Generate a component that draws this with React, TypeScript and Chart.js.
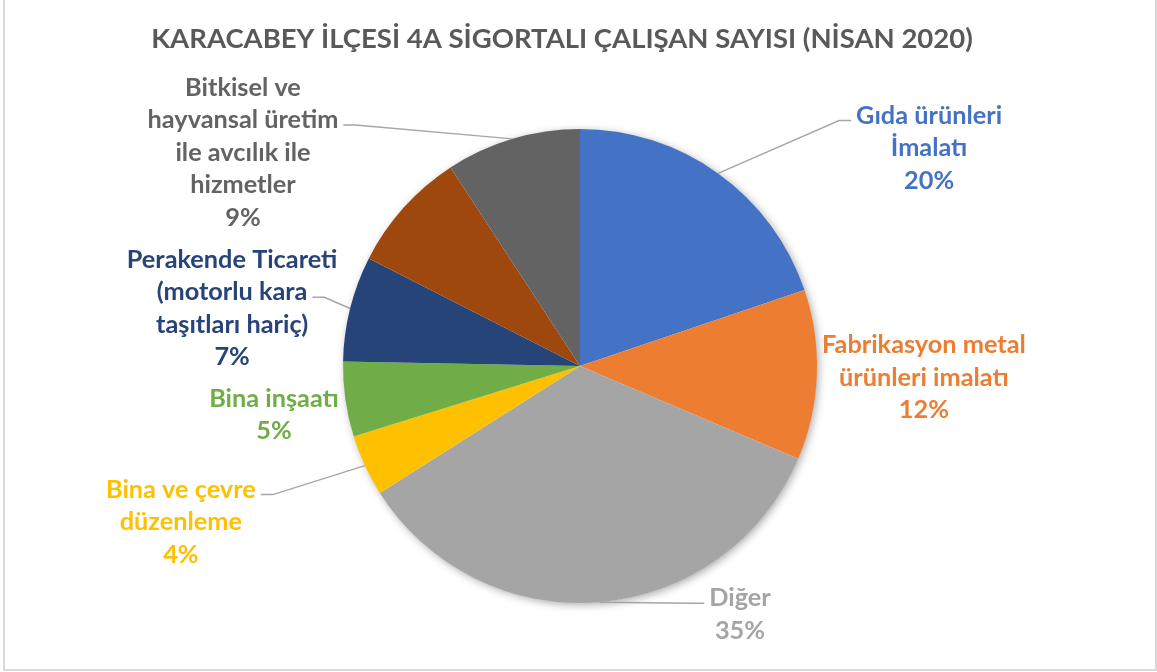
import React, { useEffect, useRef } from "react";
import { Chart, registerables } from "chart.js";

Chart.register(...registerables);

const TITLE = "KARACABEY İLÇESİ 4A SİGORTALI ÇALIŞAN SAYISI (NİSAN 2020)";

const categories = [
  "Gıda ürünleri\nİmalatı",
  "Fabrikasyon metal\nürünleri imalatı",
  "Diğer",
  "Bina ve çevre\ndüzenleme",
  "Bina inşaatı",
  "Perakende Ticareti\n(motorlu kara\ntaşıtları hariç)",
  "Etiketsiz dilim",
  "Bitkisel ve\nhayvansal üretim\nile avcılık ile\nhizmetler",
];

const shares = [19.8, 11.6, 34.6, 4.2, 5.1, 7.2, 8.3, 9.2];

const sliceColors = [
  "#4472C4",
  "#ED7D31",
  "#A5A5A5",
  "#FFC000",
  "#70AD47",
  "#264478",
  "#9E480E",
  "#636363",
];

const showLabel = [true, true, true, true, true, true, false, true];

// label placement relative to pie centre, in units of the pie radius (style only)
const labelLayout: Array<{ dx: number; dy: number; leader?: { line: number; side: "left" | "right" } } | null> = [
  { dx: 1.473, dy: -0.924, leader: { line: 0, side: "left" } },
  { dx: 1.451, dy: 0.046 },
  { dx: 0.675, dy: 1.044, leader: { line: 0, side: "left" } },
  { dx: -1.684, dy: 0.654, leader: { line: 0, side: "right" } },
  { dx: -1.291, dy: 0.203 },
  { dx: -1.468, dy: -0.247, leader: { line: 1, side: "right" } },
  null,
  { dx: -1.422, dy: -0.905, leader: { line: 1, side: "right" } },
];

const FONT_FAMILY = "Lato, 'Open Sans', sans-serif";
const LABEL_SIZE = 25.3;
const TITLE_SIZE = 27.5;
const LINE_H = 32.5;

const framePlugin = {
  id: "frame",
  beforeDraw(chart: any) {
    const ctx = chart.ctx;
    const W = chart.width;
    const H = chart.height;
    ctx.save();
    ctx.fillStyle = "#ffffff";
    ctx.fillRect(0, 0, W, H);
    ctx.fillStyle = "#D9D9D9";
    ctx.fillRect(3, 0, 2, H - 1);
    ctx.fillRect(W - 2, 0, 2, H - 1);
    ctx.fillRect(3, H - 3, W - 3, 2);
    ctx.restore();
  },
};

const shadowPlugin = {
  id: "pieShadow",
  beforeDatasetsDraw(chart: any) {
    const meta = chart.getDatasetMeta(0);
    const arc = meta.data[0];
    if (!arc) return;
    const ctx = chart.ctx;
    ctx.save();
    ctx.shadowColor = "rgba(0,0,0,0.35)";
    ctx.shadowBlur = 8;
    ctx.shadowOffsetX = 2;
    ctx.shadowOffsetY = 2;
    ctx.fillStyle = "#ffffff";
    ctx.beginPath();
    ctx.arc(arc.x, arc.y, arc.outerRadius - 0.5, 0, Math.PI * 2);
    ctx.fill();
    ctx.restore();
  },
};

const labelPlugin = {
  id: "pieLabels",
  afterDatasetsDraw(chart: any) {
    const ctx = chart.ctx;
    const meta = chart.getDatasetMeta(0);
    const data = chart.data.datasets[0].data as number[];
    const total = data.reduce((a, b) => a + b, 0);

    // title
    ctx.save();
    ctx.font = `bold ${TITLE_SIZE}px ${FONT_FAMILY}`;
    ctx.fillStyle = "#595959";
    ctx.textAlign = "center";
    ctx.textBaseline = "alphabetic";
    ctx.fillText(TITLE, 562, 48);
    ctx.restore();

    meta.data.forEach((arc: any, i: number) => {
      const layout = labelLayout[i];
      if (!showLabel[i] || !layout) return;
      const R = arc.outerRadius;
      const cx = arc.x + layout.dx * R;
      const cy = arc.y + layout.dy * R;
      const lines = String(chart.data.labels[i]).split("\n");
      lines.push(Math.round((data[i] / total) * 100) + "%");
      const n = lines.length;
      ctx.save();
      ctx.font = `bold ${LABEL_SIZE}px ${FONT_FAMILY}`;
      ctx.textAlign = "center";
      ctx.textBaseline = "alphabetic";
      ctx.fillStyle = sliceColors[i];
      const capHalf = (LABEL_SIZE * 0.716) / 2;
      const baselines: number[] = [];
      lines.forEach((t, k) => {
        const yc = cy + (k - (n - 1) / 2) * LINE_H;
        const by = yc + capHalf;
        baselines.push(by);
        ctx.fillText(t, cx, by);
      });

      if (layout.leader) {
        const li = layout.leader.line;
        const w = ctx.measureText(lines[li]).width;
        const ly = baselines[li] - 3;
        const sign = layout.leader.side === "left" ? -1 : 1;
        const endX = cx + sign * (w / 2 + 5);
        const stubX = endX + sign * 12;
        const mid = (arc.startAngle + arc.endAngle) / 2;
        const ax = arc.x + Math.cos(mid) * R;
        const ay = arc.y + Math.sin(mid) * R;
        ctx.strokeStyle = "#A6A6A6";
        ctx.lineWidth = 1.4;
        ctx.beginPath();
        ctx.moveTo(ax, ay);
        ctx.lineTo(stubX, ly);
        ctx.lineTo(endX, ly);
        ctx.stroke();
      }
      ctx.restore();
    });
  },
};

export default function App() {
  const canvasRef = useRef<HTMLCanvasElement | null>(null);

  useEffect(() => {
    document.body.style.margin = "0";
    const canvas = canvasRef.current;
    if (!canvas) return;
    const chart = new Chart(canvas, {
      type: "pie",
      data: {
        labels: categories,
        datasets: [
          {
            data: shares,
            backgroundColor: sliceColors,
            borderWidth: 0,
            hoverOffset: 0,
          },
        ],
      },
      options: {
        responsive: false,
        animation: false,
        devicePixelRatio: 1,
        layout: { padding: { left: 343, right: 340, top: 129, bottom: 69 } },
        plugins: {
          legend: { display: false },
          tooltip: { enabled: false },
          title: { display: false },
        },
        events: [],
      },
      plugins: [framePlugin, shadowPlugin, labelPlugin],
    });
    return () => chart.destroy();
  }, []);

  return (
    <div style={{ width: 1157, height: 672, position: "relative" }}>
      <canvas ref={canvasRef} width={1157} height={672} style={{ display: "block", width: 1157, height: 672 }} />
    </div>
  );
}
